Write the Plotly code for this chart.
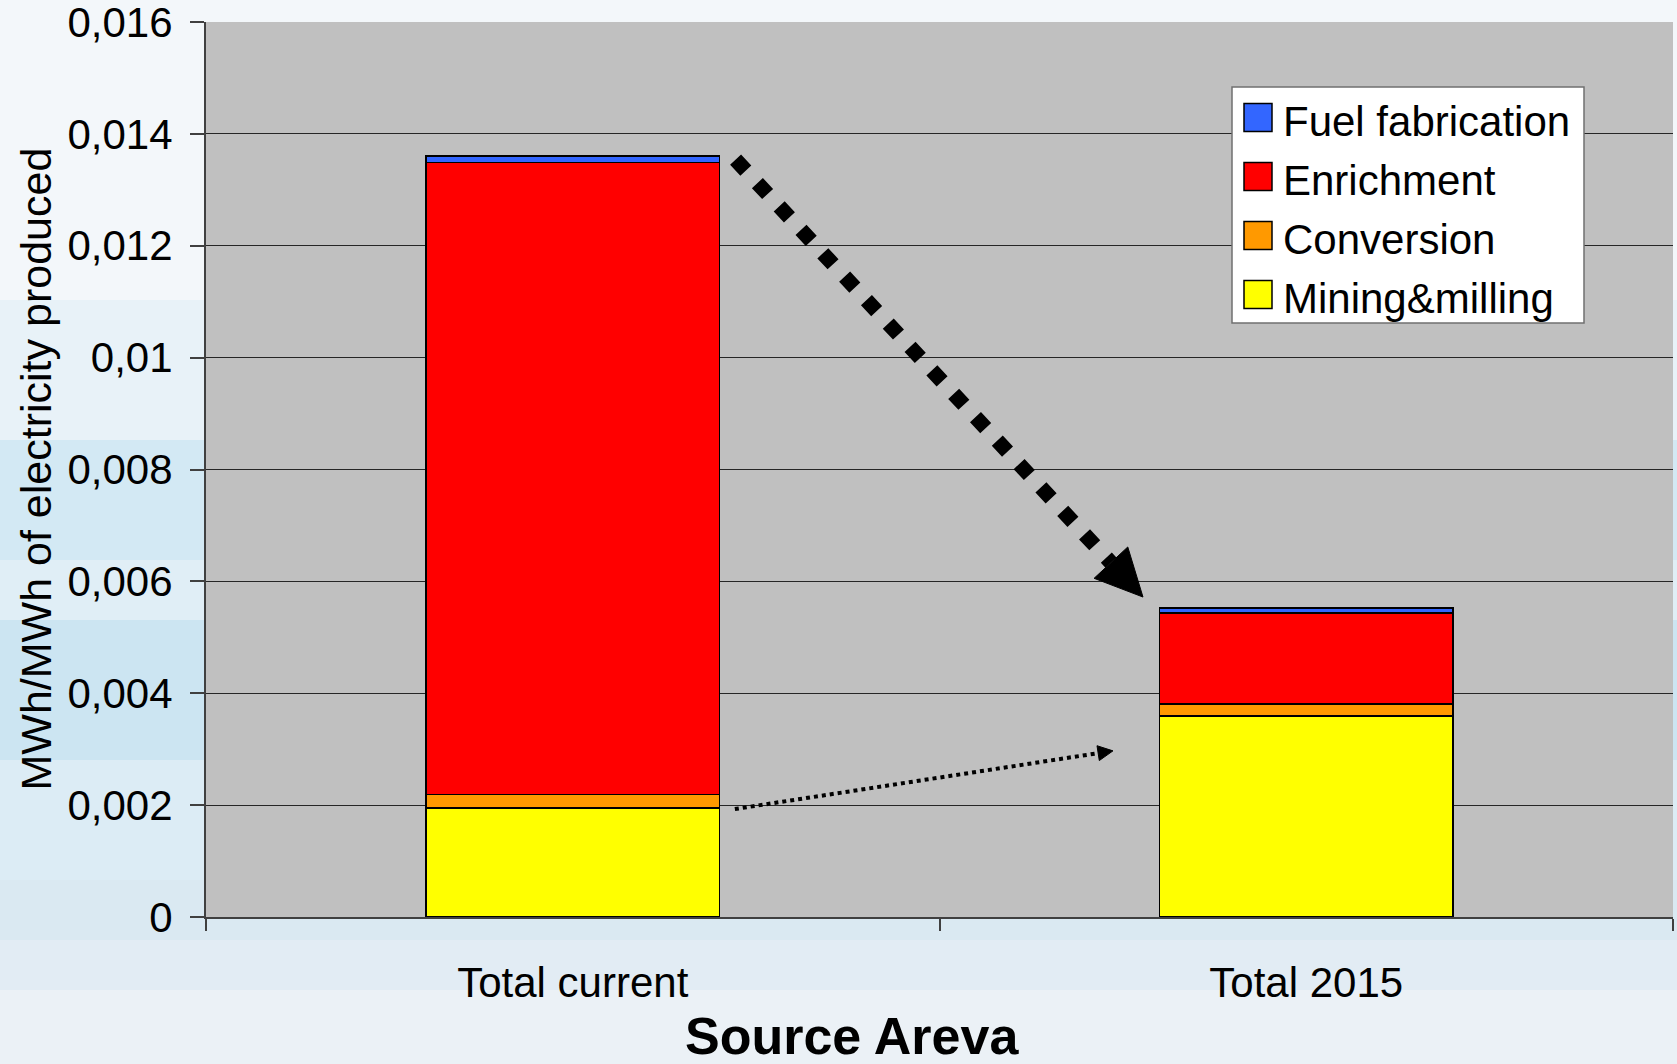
import math
import plotly.graph_objects as go

# ---------------- data ----------------
categories = ["Total current", "Total 2015"]
mining_milling = [0.00195, 0.00360]
conversion = [0.00024, 0.00021]
enrichment = [0.01130, 0.00162]
fuel_fabrication = [0.00011, 0.00010]

series_names = ["Mining&milling", "Conversion", "Enrichment", "Fuel fabrication"]
series_colors = ["#ffff00", "#ff9900", "#ff0000", "#3366ff"]

y_tick_values = [0, 0.002, 0.004, 0.006, 0.008, 0.010, 0.012, 0.014, 0.016]
y_tick_labels = ["0", "0,002", "0,004", "0,006", "0,008", "0,01", "0,012", "0,014", "0,016"]

y_title = "MWh/MWh of electricity produced"
source_text = "Source Areva"

# ---------------- layout constants ----------------
W, H = 1677, 1064
ML, MR, MT, MB = 206, 4, 22, 147
PW, PH = W - ML - MR, H - MT - MB
YMAX = 0.016
FONT = "Liberation Sans, Arial, Helvetica, sans-serif"
AXIS_COL = "#404040"


def px_to_paper(px, py):
    return ((px - ML) / PW, (H - MB - py) / PH)


def data_to_px(pos, v):
    return (ML + PW * (pos + 0.5) / len(categories), MT + PH * (1 - v / YMAX))


series_values = [mining_milling, conversion, enrichment, fuel_fabrication]
totals = [sum(s[i] for s in series_values) for i in range(len(categories))]

fig = go.Figure()
for name, vals, col in zip(series_names, series_values, series_colors):
    fig.add_trace(go.Bar(
        x=categories, y=vals, name=name,
        marker=dict(color=col, line=dict(color="#000000", width=1.8)),
        showlegend=False,
    ))

shapes = []
annotations = []

# background (sky-like gradient approximation), below plot area
bands = [
    (0, 300, "#f3f7fa"),
    (300, 440, "#e8f2f8"),
    (440, 560, "#d3e9f4"),
    (560, 620, "#e0eef6"),
    (620, 760, "#cce5f2"),
    (760, 880, "#dcecf5"),
    (880, 940, "#dae9f2"),
    (940, 990, "#e2ecf4"),
    (990, 1064, "#ebf1f6"),
]
for y0, y1, col in bands:
    _, p0 = px_to_paper(0, y1)
    _, p1 = px_to_paper(0, y0)
    shapes.append(dict(type="rect", xref="paper", yref="paper",
                       x0=px_to_paper(0, 0)[0], x1=px_to_paper(W, 0)[0],
                       y0=p0, y1=p1, fillcolor=col, line=dict(width=0),
                       layer="below"))
# plot area fill (drawn above the bands, below grid and bars)
shapes.append(dict(type="rect", xref="paper", yref="paper", x0=0, x1=1, y0=0, y1=1,
                   fillcolor="#c0c0c0", line=dict(width=0), layer="below"))


def arrow(start, tip, width, dash, head_len, head_half):
    sx, sy = start
    tx, ty = tip
    dx, dy = tx - sx, ty - sy
    L = math.hypot(dx, dy)
    ux, uy = dx / L, dy / L
    bx, by = tx - head_len * ux, ty - head_len * uy
    nx, ny = -uy, ux
    p_s = px_to_paper(sx, sy)
    p_b = px_to_paper(bx, by)
    shapes.append(dict(type="line", xref="paper", yref="paper",
                       x0=p_s[0], y0=p_s[1], x1=p_b[0], y1=p_b[1],
                       line=dict(color="#000000", width=width, dash=dash)))
    pts = [(tx, ty), (bx + head_half * nx, by + head_half * ny),
           (bx - head_half * nx, by - head_half * ny)]
    pp = [px_to_paper(x, y) for x, y in pts]
    path = "M{:.5f},{:.5f} L{:.5f},{:.5f} L{:.5f},{:.5f} Z".format(
        pp[0][0], pp[0][1], pp[1][0], pp[1][1], pp[2][0], pp[2][1])
    shapes.append(dict(type="path", xref="paper", yref="paper", path=path,
                       fillcolor="#000000", line=dict(color="#000000", width=1)))


# big dotted arrow: from top of current bar to top of 2015 bar
arrow(data_to_px(0 + 0.222, totals[0] - 0.00006),
      data_to_px(1 - 0.2226, totals[1] + 0.00019),
      15, "15px,17px", 47, 23)
# small dotted arrow: mining&milling increase
arrow(data_to_px(0 + 0.221, mining_milling[0] - 0.00002),
      data_to_px(1 - 0.2635, 0.00297),
      4, "4px,4px", 15, 7.5)

# custom legend (top -> bottom: Fuel fabrication ... Mining&milling)
lx0, ly0, lx1, ly1 = 1232, 87, 1584, 323
a = px_to_paper(lx0, ly1)
b = px_to_paper(lx1, ly0)
shapes.append(dict(type="rect", xref="paper", yref="paper",
                   x0=a[0], y0=a[1], x1=b[0], y1=b[1],
                   fillcolor="#ffffff", line=dict(color="#707070", width=1.5)))
for k, idx in enumerate(reversed(range(len(series_names)))):
    cy = 117.5 + 59 * k
    s0 = px_to_paper(1244, cy + 14)
    s1 = px_to_paper(1272, cy - 14)
    shapes.append(dict(type="rect", xref="paper", yref="paper",
                       x0=s0[0], y0=s0[1], x1=s1[0], y1=s1[1],
                       fillcolor=series_colors[idx],
                       line=dict(color="#000000", width=1.5)))
    t = px_to_paper(1281, cy + 4)
    annotations.append(dict(xref="paper", yref="paper", x=t[0], y=t[1],
                            xanchor="left", yanchor="middle", showarrow=False,
                            text=series_names[idx],
                            font=dict(family=FONT, size=42, color="#000000")))

# y-axis title
yt = px_to_paper(35, (MT + H - MB) / 2)
annotations.append(dict(xref="paper", yref="paper", x=yt[0], y=yt[1],
                        xanchor="center", yanchor="middle", showarrow=False,
                        textangle=-90, text=y_title,
                        font=dict(family=FONT, size=43, color="#000000")))
# source
st = px_to_paper(852, 1036)
annotations.append(dict(xref="paper", yref="paper", x=st[0], y=st[1],
                        xanchor="center", yanchor="middle", showarrow=False,
                        text="<b>" + source_text + "</b>",
                        font=dict(family=FONT, size=52, color="#000000")))

fig.update_layout(
    width=W, height=H,
    margin=dict(l=ML, r=MR, t=MT, b=MB, pad=0, autoexpand=False),
    barmode="stack", bargap=0.6,
    paper_bgcolor="#e9f0f6", plot_bgcolor="#c0c0c0",
    font=dict(family=FONT, size=41, color="#000000"),
    showlegend=False,
    shapes=shapes, annotations=annotations,
    xaxis=dict(type="category", tickson="boundaries", ticks="outside",
               ticklen=12, tickwidth=2, tickcolor=AXIS_COL,
               showline=True, linecolor=AXIS_COL, linewidth=2,
               showgrid=False, ticklabelstandoff=28, automargin=False,
               tickfont=dict(family=FONT, size=42, color="#000000")),
    yaxis=dict(range=[0, YMAX], tickvals=y_tick_values, ticktext=y_tick_labels,
               ticks="outside", ticklen=14, tickwidth=1.5, tickcolor=AXIS_COL,
               showline=True, linecolor=AXIS_COL, linewidth=2,
               showgrid=True, gridcolor="#262626", gridwidth=1,
               zeroline=False, ticklabelstandoff=9, ticklabeloverflow="allow",
               automargin=False,
               tickfont=dict(family=FONT, size=42, color="#000000")),
)

fig.write_html("out.html",
               config={"displayModeBar": False},
               post_script="document.body.style.margin='0';"
                           "document.body.style.overflow='hidden';")
